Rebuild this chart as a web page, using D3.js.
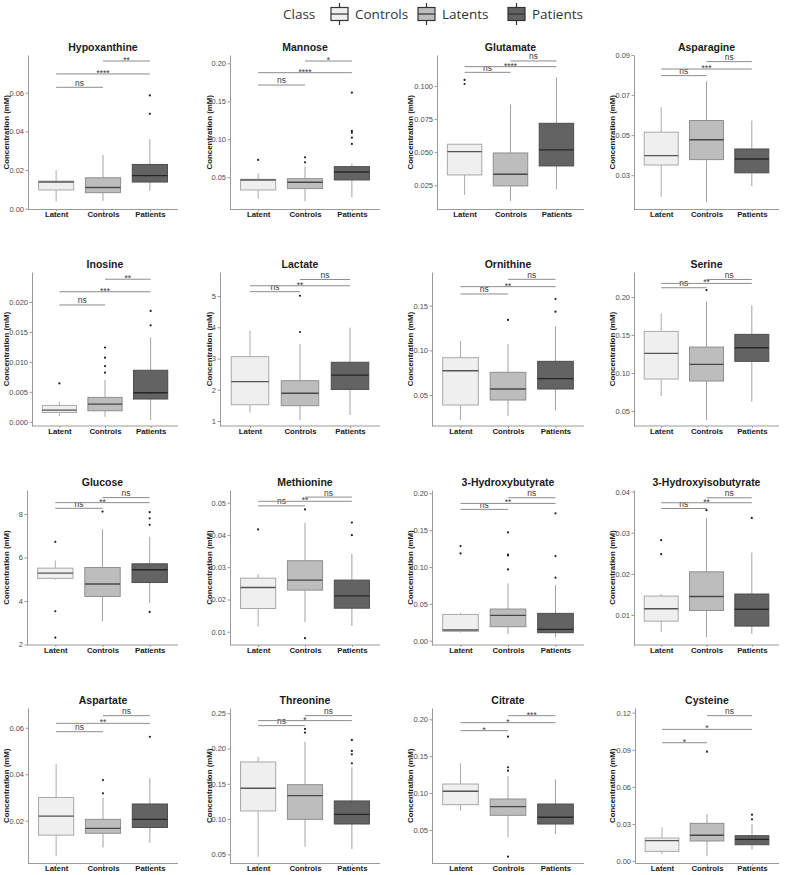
<!DOCTYPE html>
<html><head><meta charset="utf-8">
<script src="https://cdn.jsdelivr.net/npm/d3@7"></script>
<style>body{margin:0;background:#fff;} svg{display:block;font-family:"Liberation Sans",Arial,sans-serif;}</style>
</head><body><svg id="chart" width="787" height="875"></svg>
<script>
// ---------------- data ----------------
const groups = ["Latent", "Controls", "Patients"];
const legendTitle = "Class";
const legendLabels = ["Controls", "Latents", "Patients"];
const yAxisTitle = "Concentration (mM)";

const metabolites = ["Hypoxanthine", "Mannose", "Glutamate", "Asparagine",
  "Inosine", "Lactate", "Ornithine", "Serine",
  "Glucose", "Methionine", "3-Hydroxybutyrate", "3-Hydroxyisobutyrate",
  "Aspartate", "Threonine", "Citrate", "Cysteine"];

const yDomains = [[-0.0004, 0.0795], [0.0076, 0.211], [0.0067, 0.1234], [0.0129, 0.0900],
  [-0.0007, 0.025], [0.84, 5.77], [0.0153, 0.1877], [0.0303, 0.233],
  [1.98, 9.1], [0.0059, 0.0539], [-0.0058, 0.2045], [0.0027, 0.0404],
  [0.0016, 0.0685], [0.037, 0.2575], [0.0046, 0.2153], [-0.002, 0.1238]];

const yTickLabels = [
  ["0.00", "0.02", "0.04", "0.06"], ["0.05", "0.10", "0.15", "0.20"],
  ["0.025", "0.050", "0.075", "0.100"], ["0.03", "0.05", "0.07", "0.09"],
  ["0.000", "0.005", "0.010", "0.015", "0.020"], ["1", "2", "3", "4", "5"],
  ["0.05", "0.10", "0.15"], ["0.05", "0.10", "0.15", "0.20"],
  ["2", "4", "6", "8"], ["0.01", "0.02", "0.03", "0.04", "0.05"],
  ["0.00", "0.05", "0.10", "0.15", "0.20"], ["0.01", "0.02", "0.03", "0.04"],
  ["0.02", "0.04", "0.06"], ["0.05", "0.10", "0.15", "0.20", "0.25"],
  ["0.05", "0.10", "0.15", "0.20"], ["0.00", "0.03", "0.06", "0.09", "0.12"]];

// [lower whisker, Q1, median, Q3, upper whisker] for Latent, Controls, Patients
const boxStats = [
  [[0.0038, 0.0097, 0.0138, 0.0143, 0.020], [0.0041, 0.0083, 0.011, 0.016, 0.0278], [0.0093, 0.0138, 0.0171, 0.0229, 0.0359]],
  [[0.0219, 0.0333, 0.0465, 0.0474, 0.0553], [0.0184, 0.0351, 0.0434, 0.0482, 0.064], [0.0237, 0.0465, 0.057, 0.064, 0.0684]],
  [[0.0177, 0.0328, 0.0504, 0.056, 0.056], [0.0132, 0.0245, 0.0333, 0.0494, 0.086], [0.022, 0.0396, 0.0517, 0.0718, 0.1066]],
  [[0.0192, 0.0351, 0.0398, 0.0515, 0.064], [0.0167, 0.0378, 0.0477, 0.0573, 0.0769], [0.0245, 0.0312, 0.0381, 0.0431, 0.0573]],
  [[0.00095, 0.00156, 0.00195, 0.00273, 0.00334], [0.00084, 0.00184, 0.00295, 0.00407, 0.00696], [0.0003, 0.0038, 0.00485, 0.0086, 0.0141]],
  [[1.27, 1.52, 2.26, 3.06, 3.89], [1.03, 1.49, 1.89, 2.29, 3.46], [1.19, 2.01, 2.47, 2.88, 3.99]],
  [[0.022, 0.0388, 0.0772, 0.0918, 0.1105], [0.0265, 0.0444, 0.0567, 0.0754, 0.1071], [0.0325, 0.0567, 0.0683, 0.0877, 0.1265]],
  [[0.0697, 0.0921, 0.1259, 0.1548, 0.1785], [0.0382, 0.0895, 0.1114, 0.1342, 0.1943], [0.0623, 0.1154, 0.1333, 0.1509, 0.189]],
  [[4.98, 5.04, 5.28, 5.51, 5.86], [3.07, 4.21, 4.78, 5.54, 7.30], [3.91, 4.85, 5.44, 5.71, 6.96]],
  [[0.0116, 0.0172, 0.0237, 0.0266, 0.0279], [0.013, 0.0229, 0.026, 0.032, 0.0438], [0.0118, 0.0173, 0.0211, 0.026, 0.0341]],
  [[0.0109, 0.0127, 0.0145, 0.0357, 0.038], [0.009, 0.019, 0.0344, 0.043, 0.0778], [0.0045, 0.0109, 0.0154, 0.0371, 0.0755]],
  [[0.0059, 0.0085, 0.0115, 0.0146, 0.0151], [0.0046, 0.0111, 0.0145, 0.0205, 0.0335], [0.0054, 0.0073, 0.0114, 0.0151, 0.0252]],
  [[0.0048, 0.0138, 0.022, 0.030, 0.0444], [0.0085, 0.0146, 0.0167, 0.0206, 0.030], [0.0105, 0.0171, 0.0206, 0.0272, 0.0382]],
  [[0.0467, 0.1115, 0.1436, 0.181, 0.1885], [0.0609, 0.0996, 0.1332, 0.1488, 0.2098], [0.0576, 0.093, 0.1067, 0.1257, 0.1734]],
  [[0.0762, 0.0843, 0.1024, 0.1123, 0.1403], [0.0401, 0.0699, 0.0816, 0.092, 0.1232], [0.0446, 0.0581, 0.0672, 0.0852, 0.1187]],
  [[0.0057, 0.0078, 0.0165, 0.0186, 0.0272], [0.004, 0.0162, 0.0208, 0.0305, 0.038], [0.0094, 0.0132, 0.0175, 0.0205, 0.0299]]];

// outlying points for Latent, Controls, Patients
const outliers = [
  [[], [], [0.0491, 0.0586]],
  [[0.0728], [0.0697, 0.0763], [0.0939, 0.1022, 0.1088, 0.111, 0.1614]],
  [[0.1015, 0.1046], [], []],
  [[], [], []],
  [[0.0064], [0.0082, 0.0093, 0.0107, 0.0124], [0.0161, 0.0185]],
  [[], [3.85, 5.01], []],
  [[], [0.134], [0.1433, 0.1575]],
  [[], [0.2092], []],
  [[6.72, 3.53, 2.32], [8.11], [8.08, 7.80, 7.50, 3.50]],
  [[0.0417], [0.0479, 0.008], [0.0399, 0.0438]],
  [[0.1185, 0.1284], [0.0968, 0.1158, 0.1167, 0.147], [0.0855, 0.1149, 0.1728]],
  [[0.0248, 0.0282], [0.0355], [0.0336]],
  [[], [0.0318, 0.0375], [0.0561]],
  [[], [0.2226, 0.2278], [0.179, 0.1918, 0.1966, 0.2122]],
  [[], [0.1304, 0.1349, 0.1765, 0.0139], []],
  [[], [0.0885], [0.0337, 0.0375]]];

// comparisons: Latent-Controls, Latent-Patients, Controls-Patients
const bracketPairs = [["Latent", "Controls"], ["Latent", "Patients"], ["Controls", "Patients"]];
const bracketHeights = [
  [0.0628, 0.0697, 0.0764], [0.1715, 0.1877, 0.2031], [0.1103, 0.1146, 0.1189], [0.0797, 0.083, 0.0867],
  [0.0195, 0.0217, 0.0238], [5.14, 5.33, 5.53], [0.1631, 0.1713, 0.1795], [0.2123, 0.218, 0.2232],
  [8.26, 8.52, 8.75], [0.049, 0.0504, 0.0517], [0.1782, 0.1863, 0.194], [0.0359, 0.0373, 0.0385],
  [0.0583, 0.0619, 0.0652], [0.2325, 0.2396, 0.2467], [0.1846, 0.1954, 0.2049], [0.0957, 0.1065, 0.1176]];
const bracketLabels = [
  ["ns", "****", "**"], ["ns", "****", "*"], ["ns", "****", "ns"], ["ns", "***", "ns"],
  ["ns", "***", "**"], ["ns", "**", "ns"], ["ns", "**", "ns"], ["ns", "**", "ns"],
  ["ns", "**", "ns"], ["ns", "**", "ns"], ["ns", "**", "ns"], ["ns", "**", "ns"],
  ["ns", "**", "ns"], ["ns", "*", "ns"], ["*", "*", "***"], ["*", "*", "ns"]];

// ---------------- layout / style ----------------
const colYLabelX = [6, 209, 410, 612];
const colRight = [178, 380, 584, 779];
const plotLeft = [28, 230, 437, 634, 32, 220, 432, 634, 27, 230, 432, 634, 28, 230, 432, 635];
const rowTop = [55, 272, 490, 708];
const rowBottom = [209.5, 426, 645, 863.5];

const fillColor = d3.scaleOrdinal().domain(groups).range(["#efefef", "#bdbdbd", "#636363"]);
const boxStroke = d3.scaleOrdinal().domain(groups).range(["#a9a9a9", "#8f8f8f", "#4d4d4d"]);
const whiskerStroke = d3.scaleOrdinal().domain(groups).range(["#ababab", "#a3a3a3", "#a3a3a3"]);
const medianStroke = d3.scaleOrdinal().domain(groups).range(["#555555", "#474747", "#262626"]);
const axisGrey = "#9a9a9a";

const svg = d3.select("#chart");
svg.append("rect").attr("width", 787).attr("height", 875).attr("fill", "#fff");

// ---------------- legend ----------------
const legend = svg.append("g");
legend.append("text").attr("x", 283).attr("y", 14).attr("dy", "0.35em")
  .attr("font-family", "'Open Sans', sans-serif").attr("font-size", 13.5).attr("fill", "#333")
  .text(legendTitle);
const legendKeyX = [330, 417, 507];
const legendFills = ["#efefef", "#bdbdbd", "#636363"];
legendLabels.forEach((lab, i) => {
  const g = legend.append("g").attr("transform", `translate(${legendKeyX[i]},0)`);
  g.append("line").attr("x1", 9.5).attr("x2", 9.5).attr("y1", 3).attr("y2", 25)
    .attr("stroke", "#333").attr("stroke-width", 1.2);
  g.append("rect").attr("x", 1).attr("y", 7.5).attr("width", 17).attr("height", 13)
    .attr("fill", legendFills[i]).attr("stroke", "#333").attr("stroke-width", 1.2);
  g.append("line").attr("x1", 1).attr("x2", 18).attr("y1", 14).attr("y2", 14)
    .attr("stroke", "#333").attr("stroke-width", 1.2);
  g.append("text").attr("x", 25).attr("y", 14).attr("dy", "0.35em")
    .attr("font-family", "'Open Sans', sans-serif").attr("font-size", 13.5).attr("fill", "#333")
    .text(lab);
});

// ---------------- panels ----------------
metabolites.forEach((name, i) => {
  const r = Math.floor(i / 4), c = i % 4;
  const left = plotLeft[i], right = colRight[c], top = rowTop[r], bottom = rowBottom[r];
  const y = d3.scaleLinear().domain(yDomains[i]).range([bottom, top]);
  const x = d3.scalePoint().domain(groups).range([left, right]).padding(0.6);
  const bw = x.step() * 0.75;
  const g = svg.append("g");

  // title
  g.append("text").attr("x", (left + right) / 2).attr("y", top - 8).attr("dy", "0.35em")
    .attr("text-anchor", "middle").attr("font-weight", "bold").attr("font-size", 10.5)
    .attr("fill", "#1a1a1a").text(name);

  // y axis title
  g.append("text").attr("transform", `translate(${colYLabelX[c]},${(top + bottom) / 2}) rotate(-90)`)
    .attr("dy", "0.35em").attr("text-anchor", "middle").attr("font-weight", "bold")
    .attr("font-size", 7.9).attr("fill", "#1a1a1a").text(yAxisTitle);

  // y axis
  const tickVals = yTickLabels[i].map(Number);
  const yAxis = g.append("g").attr("transform", `translate(${left},0)`)
    .call(d3.axisLeft(y).tickValues(tickVals).tickFormat((d, k) => yTickLabels[i][k])
      .tickSize(2.5).tickSizeOuter(0).tickPadding(1.5));
  yAxis.select(".domain").attr("stroke", axisGrey).attr("stroke-width", 1);
  yAxis.selectAll(".tick line").attr("stroke", axisGrey);
  yAxis.selectAll(".tick text").attr("font-size", 7.5).attr("fill", "#4d4d4d")
    .attr("font-family", "'Liberation Sans', Arial, sans-serif");

  // x axis
  const xAxis = g.append("g").attr("transform", `translate(0,${bottom})`)
    .call(d3.axisBottom(x).tickSize(2).tickSizeOuter(0).tickPadding(0.5));
  xAxis.select(".domain").attr("d", `M${left},0H${right}`).attr("stroke", axisGrey).attr("stroke-width", 1);
  xAxis.selectAll(".tick line").attr("stroke", axisGrey);
  xAxis.selectAll(".tick text").attr("font-size", 7.8).attr("font-weight", "bold").attr("fill", "#1a1a1a")
    .attr("font-family", "'Liberation Sans', Arial, sans-serif").attr("y", 5).attr("dy", "0.35em");

  // boxes
  groups.forEach((grp, k) => {
    const [lw, q1, med, q3, uw] = boxStats[i][k];
    const cx = x(grp);
    g.append("line").attr("x1", cx).attr("x2", cx).attr("y1", y(lw)).attr("y2", y(q1))
      .attr("stroke", whiskerStroke(grp)).attr("stroke-width", 1);
    g.append("line").attr("x1", cx).attr("x2", cx).attr("y1", y(q3)).attr("y2", y(uw))
      .attr("stroke", whiskerStroke(grp)).attr("stroke-width", 1);
    g.append("rect").attr("x", cx - bw / 2).attr("y", y(q3)).attr("width", bw)
      .attr("height", Math.max(0.5, y(q1) - y(q3)))
      .attr("fill", fillColor(grp)).attr("stroke", boxStroke(grp)).attr("stroke-width", 1);
    g.append("line").attr("x1", cx - bw / 2).attr("x2", cx + bw / 2).attr("y1", y(med)).attr("y2", y(med))
      .attr("stroke", medianStroke(grp)).attr("stroke-width", 1.4);
    outliers[i][k].forEach(v => {
      g.append("circle").attr("cx", cx).attr("cy", y(v)).attr("r", 1.1).attr("fill", "#1f1f1f");
    });
  });

  // significance brackets
  bracketPairs.forEach((pair, k) => {
    const yy = y(bracketHeights[i][k]);
    const x1 = x(pair[0]), x2 = x(pair[1]);
    g.append("line").attr("x1", x1).attr("x2", x2).attr("y1", yy).attr("y2", yy)
      .attr("stroke", "#8c8c8c").attr("stroke-width", 1);
    const lab = bracketLabels[i][k];
    const isStar = lab.indexOf("*") >= 0;
    g.append("text").attr("x", (x1 + x2) / 2).attr("y", isStar ? yy + 2 : yy - 1.6)
      .attr("text-anchor", "middle").attr("font-size", 8.5).attr("fill", "#3a3a3a")
      .text(lab);
  });
});
</script>
</body></html>
